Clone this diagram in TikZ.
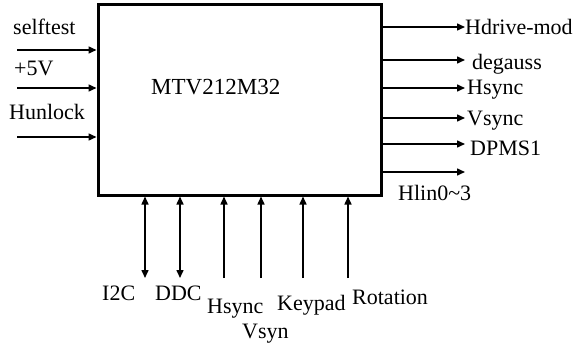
\documentclass[tikz,border=0pt]{standalone}
\usepackage{fontspec}
\setmainfont{Liberation Serif}
\usetikzlibrary{arrows.meta}

\begin{document}
\begin{tikzpicture}[
    x=1pt, y=-1pt,
    font=\fontsize{22}{24}\selectfont,
    chipbox/.style={
        rectangle, draw, line width=3pt,
        minimum width=283pt, minimum height=190pt,
        inner sep=0pt
    },
    lbl/.style={anchor=base west, inner sep=0pt},
    arrow/.style={-{Triangle[length=8pt,width=7pt]}, line width=1.5pt},
    dblarrow/.style={{Triangle[length=8pt,width=7pt]}-{Triangle[length=8pt,width=7pt]}, line width=1.5pt}
]
\useasboundingbox (0,0) rectangle (576,345);

\node[chipbox] (chip) at (239.5,100) {};
\node[lbl, font=\fontsize{23}{24}\selectfont] (title) at (151,95) {MTV212M32};

% inputs on the left
\coordinate (in1) at (17,50);
\coordinate (in2) at (17,88);
\coordinate (in3) at (17,137);
\node[lbl] (selftest) at (13,35)  {selftest};
\node[lbl] (pwr)      at (14,76)  {+5V};
\node[lbl] (hunlock)  at (9,120)  {Hunlock};
\draw[arrow] (in1) -- (in1 -| chip.west);
\draw[arrow] (in2) -- (in2 -| chip.west);
\draw[arrow] (in3) -- (in3 -| chip.west);

% outputs on the right
\coordinate (out1) at (465,27);
\coordinate (out2) at (465,60);
\coordinate (out3) at (465,88);
\coordinate (out4) at (465,118);
\coordinate (out5) at (465,144);
\coordinate (out6) at (465,172);
\node[lbl] (hdrive)  at (465,35)  {Hdrive-mod};
\node[lbl] (degauss) at (472,70)  {degauss};
\node[lbl] (hsynco)  at (467,95)  {Hsync};
\node[lbl] (vsynco)  at (467,125) {Vsync};
\node[lbl] (dpms)    at (470,155) {DPMS1};
\node[lbl] (hlin)    at (398,200) {Hlin0\char"7E 3};
\draw[arrow] (chip.east |- out1) -- (out1);
\draw[arrow] (chip.east |- out2) -- (out2);
\draw[arrow] (chip.east |- out3) -- (out3);
\draw[arrow] (chip.east |- out4) -- (out4);
\draw[arrow] (chip.east |- out5) -- (out5);
\draw[arrow] (chip.east |- out6) -- (out6);

% bus and inputs at the bottom
\coordinate (b1) at (145,278);
\coordinate (b2) at (180,278);
\coordinate (b3) at (224,278);
\coordinate (b4) at (261,278);
\coordinate (b5) at (303,278);
\coordinate (b6) at (348,278);
\node[lbl] (iic)      at (102,300) {I2C};
\node[lbl] (ddc)      at (155,300) {DDC};
\node[lbl] (hsynci)   at (207,313) {Hsync};
\node[lbl] (vsynci)   at (242,338) {Vsyn};
\node[lbl] (keypad)   at (277,310) {Keypad};
\node[lbl] (rotation) at (352,304) {Rotation};
\draw[dblarrow] (b1 |- chip.south) -- (b1);
\draw[dblarrow] (b2 |- chip.south) -- (b2);
\draw[arrow] (b3) -- (b3 |- chip.south);
\draw[arrow] (b4) -- (b4 |- chip.south);
\draw[arrow] (b5) -- (b5 |- chip.south);
\draw[arrow] (b6) -- (b6 |- chip.south);
\end{tikzpicture}
\end{document}
